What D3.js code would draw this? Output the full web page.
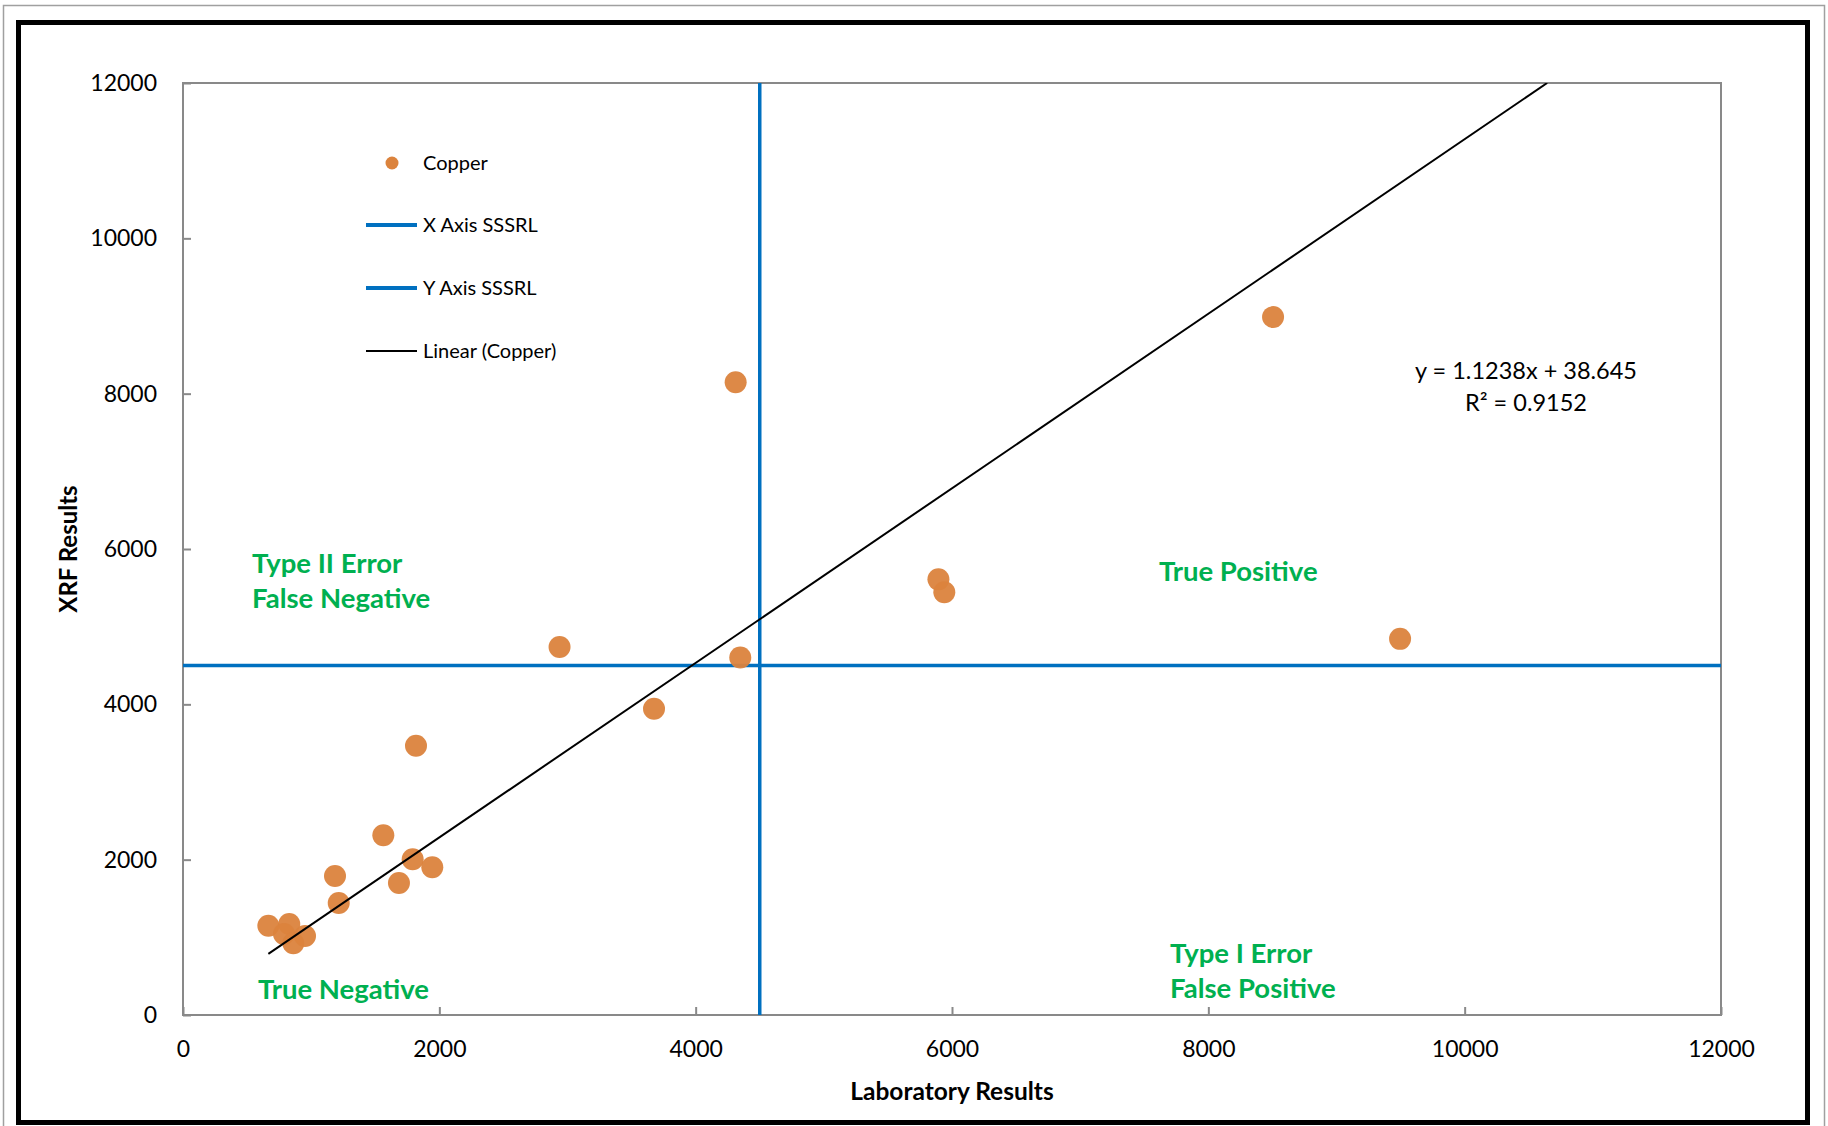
<!DOCTYPE html>
<html>
<head>
<meta charset="utf-8">
<script src="https://cdn.jsdelivr.net/npm/d3@7"></script>
<style>
  body { margin: 0; background: #fff; }
  svg { display: block; font-family: Lato, "Open Sans", sans-serif; }
</style>
</head>
<body>
<svg id="chart"></svg>
<script>
// Copper: laboratory vs XRF
const labResults = [4312, 8505, 5894, 5940, 9496, 2938, 4348, 3675, 1818, 1563, 1792, 1945, 1186, 1685, 1215, 666, 829, 788, 861, 952];
const xrfResults = [8146, 8986, 5609, 5444, 4843, 4738, 4603, 3943, 3467, 2314, 2005, 1902, 1790, 1700, 1442, 1150, 1172, 1043, 923, 1017];
const ticks = [0, 2000, 4000, 6000, 8000, 10000, 12000];
const sssrl = 4500;
const slope = 1.1238, intercept = 38.645;
const legendItems = ["Copper", "X Axis SSSRL", "Y Axis SSSRL", "Linear (Copper)"];

const width = 1828, height = 1126;
const plot = { left: 183, right: 1721, top: 83, bottom: 1015 };

const svg = d3.select("#chart")
    .attr("width", width)
    .attr("height", height);

// outer borders
svg.append("rect")
    .attr("x", 3.5).attr("y", 5.5)
    .attr("width", 1821).attr("height", 1130)
    .attr("fill", "none").attr("stroke", "#a0a0a0").attr("stroke-width", 1.5);
svg.append("rect")
    .attr("x", 18.5).attr("y", 22.5)
    .attr("width", 1789).attr("height", 1100)
    .attr("fill", "none").attr("stroke", "#000").attr("stroke-width", 5);

const x = d3.scaleLinear().domain([0, 12000]).range([plot.left, plot.right]);
const y = d3.scaleLinear().domain([0, 12000]).range([plot.bottom, plot.top]);

svg.append("clipPath").attr("id", "clip")
    .append("rect")
    .attr("x", plot.left).attr("y", plot.top)
    .attr("width", plot.right - plot.left).attr("height", plot.bottom - plot.top);

// X axis
const xAxis = svg.append("g")
    .attr("transform", `translate(0,${plot.bottom})`)
    .call(d3.axisBottom(x).tickValues(ticks).tickSize(-8).tickPadding(26).tickFormat(d3.format("d")));
xAxis.select(".domain").remove();
xAxis.selectAll("line").attr("stroke", "#898989").attr("stroke-width", 2);
xAxis.selectAll("text").attr("font-size", "23px").attr("fill", "#000").attr("font-family", "Lato");

// Y axis
const yAxis = svg.append("g")
    .attr("transform", `translate(${plot.left},0)`)
    .call(d3.axisLeft(y).tickValues(ticks).tickSize(-8).tickPadding(26).tickFormat(d3.format("d")));
yAxis.select(".domain").remove();
yAxis.selectAll("line").attr("stroke", "#898989").attr("stroke-width", 2);
yAxis.selectAll("text").attr("font-size", "23px").attr("fill", "#000").attr("font-family", "Lato");

// plot frame
svg.append("rect")
    .attr("x", plot.left).attr("y", plot.top)
    .attr("width", plot.right - plot.left).attr("height", plot.bottom - plot.top)
    .attr("fill", "none").attr("stroke", "#898989").attr("stroke-width", 2);

// axis titles
svg.append("text")
    .attr("x", (plot.left + plot.right) / 2).attr("y", 1100)
    .attr("text-anchor", "middle")
    .attr("font-size", "24.5px").attr("font-weight", "bold")
    .text("Laboratory Results");
svg.append("text")
    .attr("transform", `translate(77,${(plot.top + plot.bottom) / 2}) rotate(-90)`)
    .attr("text-anchor", "middle")
    .attr("font-size", "24px").attr("font-weight", "bold")
    .text("XRF Results");

// SSSRL lines
svg.append("line")
    .attr("x1", x(sssrl)).attr("x2", x(sssrl))
    .attr("y1", y(0)).attr("y2", y(12000))
    .attr("stroke", "#0070C0").attr("stroke-width", 3.5);
svg.append("line")
    .attr("x1", x(0)).attr("x2", x(12000))
    .attr("y1", y(sssrl)).attr("y2", y(sssrl))
    .attr("stroke", "#0070C0").attr("stroke-width", 3.5);

// points
svg.append("g")
    .selectAll("circle")
    .data(labResults.map((d, i) => [d, xrfResults[i]]))
    .join("circle")
    .attr("cx", d => x(d[0]))
    .attr("cy", d => y(d[1]))
    .attr("r", 11)
    .attr("fill", "#DB833D")
    .attr("fill-opacity", 0.95);

// trendline
const xMin = d3.min(labResults);
const xEnd = (12000 - intercept) / slope;
svg.append("line")
    .attr("clip-path", "url(#clip)")
    .attr("x1", x(xMin)).attr("y1", y(slope * xMin + intercept))
    .attr("x2", x(xEnd)).attr("y2", y(slope * xEnd + intercept))
    .attr("stroke", "#000").attr("stroke-width", 2);

// equation
svg.append("text")
    .attr("x", 1526).attr("y", 379)
    .attr("text-anchor", "middle").attr("font-size", "23.5px")
    .text(`y = ${slope}x + ${intercept}`);
svg.append("text")
    .attr("x", 1526).attr("y", 411)
    .attr("text-anchor", "middle").attr("font-size", "23.5px")
    .text("R² = 0.9152");

// quadrant labels
const quad = [
    { lines: ["Type II Error", "False Negative"], x: 252, y: 573 },
    { lines: ["True Positive"], x: 1159, y: 581 },
    { lines: ["Type I Error", "False Positive"], x: 1170, y: 963 },
    { lines: ["True Negative"], x: 258, y: 999 }
];
quad.forEach(q => {
    q.lines.forEach((t, i) => {
        svg.append("text")
            .attr("x", q.x).attr("y", q.y + i * 35)
            .attr("font-size", "27.5px").attr("font-weight", "bold")
            .attr("fill", "#00B050")
            .text(t);
    });
});

// legend
const legendY = [163, 225, 288, 351];
const leg = svg.append("g");
leg.append("circle").attr("cx", 392).attr("cy", legendY[0]).attr("r", 6.5).attr("fill", "#DB833D");
leg.append("line").attr("x1", 366).attr("x2", 417).attr("y1", legendY[1]).attr("y2", legendY[1])
    .attr("stroke", "#0070C0").attr("stroke-width", 4);
leg.append("line").attr("x1", 366).attr("x2", 417).attr("y1", legendY[2]).attr("y2", legendY[2])
    .attr("stroke", "#0070C0").attr("stroke-width", 4);
leg.append("line").attr("x1", 366).attr("x2", 417).attr("y1", legendY[3]).attr("y2", legendY[3])
    .attr("stroke", "#000").attr("stroke-width", 2);
leg.selectAll("text")
    .data(legendItems)
    .join("text")
    .attr("x", 423)
    .attr("y", (d, i) => legendY[i])
    .attr("dy", "0.35em")
    .attr("font-size", "20px")
    .text(d => d);
</script>
</body>
</html>
